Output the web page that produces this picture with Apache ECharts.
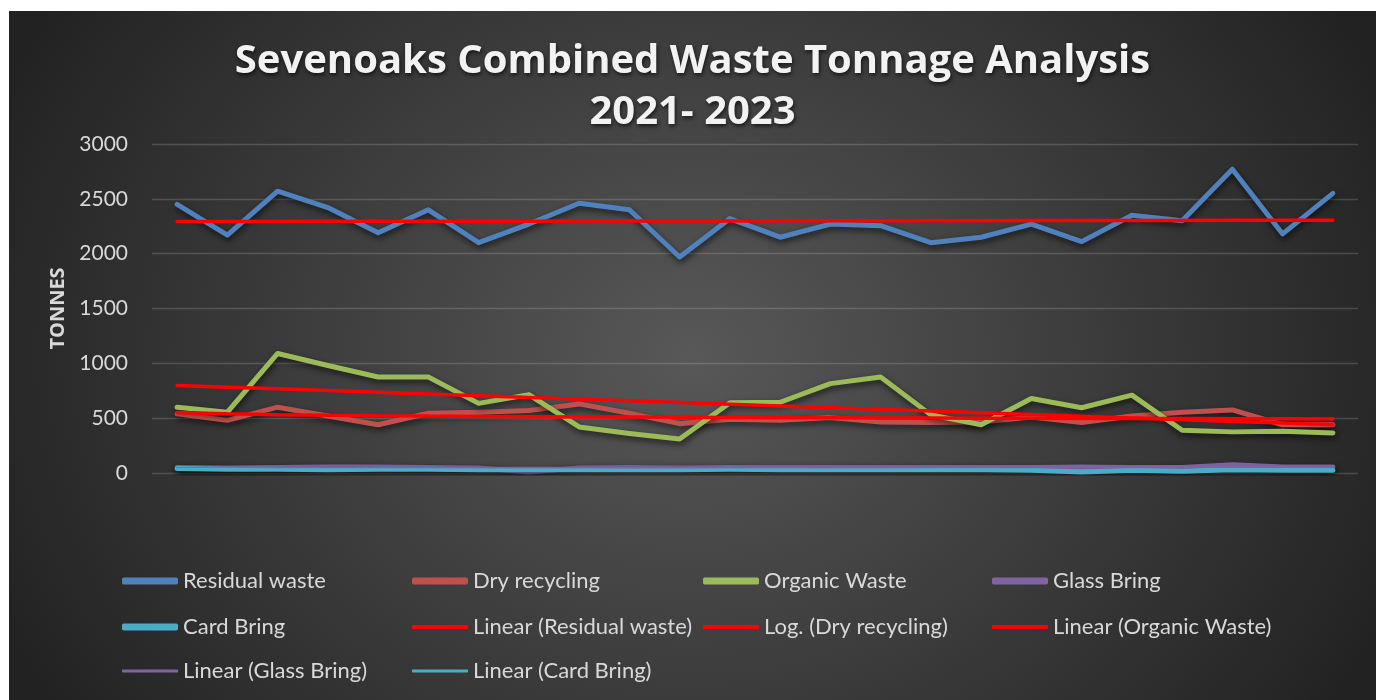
<!DOCTYPE html>
<html>
<head>
<meta charset="utf-8">
<script src="https://cdn.jsdelivr.net/npm/echarts@6/dist/echarts.min.js"></script>
<style>
html, body { margin: 0; padding: 0; background: #fff; }
#chart { position: absolute; left: 9px; top: 11px; width: 1367px; height: 689px; }
</style>
</head>
<body>
<div id="chart"></div>
<script>
// months Apr 2021 - Mar 2023 (labels not shown on the chart)
var months = ['Apr-21','May-21','Jun-21','Jul-21','Aug-21','Sep-21','Oct-21','Nov-21','Dec-21','Jan-22','Feb-22','Mar-22',
              'Apr-22','May-22','Jun-22','Jul-22','Aug-22','Sep-22','Oct-22','Nov-22','Dec-22','Jan-23','Feb-23','Mar-23'];
var residual = [2450,2170,2570,2420,2190,2400,2100,2270,2460,2400,1970,2320,2150,2270,2255,2100,2150,2270,2110,2350,2300,2770,2180,2550];
var dry      = [540,480,600,520,440,545,555,570,630,545,450,490,480,505,465,460,465,510,460,520,555,575,440,440];
var organic  = [600,555,1090,980,875,875,635,715,420,360,310,640,645,815,875,530,440,680,595,710,390,375,380,365];
var glass    = [50,45,50,55,55,50,45,10,45,50,45,50,50,50,50,50,50,50,55,50,50,75,55,55];
var card     = [40,35,35,30,35,35,30,30,30,30,30,35,30,30,30,30,30,25,10,25,15,30,25,25];
var yTicks   = [0, 500, 1000, 1500, 2000, 2500, 3000];

var names = ['Residual waste','Dry recycling','Organic Waste','Glass Bring','Card Bring'];
var colors = ['#4F81BD','#C0504D','#9BBB59','#8064A2','#4BACC6'];

// least squares trend lines (Excel style)
function fit(arr, useLog) {
  var n = arr.length, sx = 0, sy = 0, sxx = 0, sxy = 0;
  for (var i = 0; i < n; i++) {
    var x = useLog ? Math.log(i + 1) : i + 1;
    sx += x; sy += arr[i]; sxx += x * x; sxy += x * arr[i];
  }
  var b = (n * sxy - sx * sy) / (n * sxx - sx * sx);
  var a = (sy - b * sx) / n;
  return arr.map(function (v, i) { return a + b * (useLog ? Math.log(i + 1) : i + 1); });
}

var dataSets = [residual, dry, organic, glass, card];
var series = [];
for (var i = 0; i < 5; i++) {
  series.push({
    name: names[i], type: 'line', data: dataSets[i], symbol: 'none', z: 2,
    itemStyle: { color: colors[i] },
    lineStyle: { width: 5, color: colors[i], cap: 'round', join: 'round',
      shadowColor: 'rgba(0,0,0,0.65)', shadowBlur: 6, shadowOffsetY: 3, shadowOffsetX: 1 }
  });
}
var trends = [
  { name: 'Linear (Residual waste)', data: fit(residual, false), color: '#FF0000', width: 3.5 },
  { name: 'Log. (Dry recycling)',    data: fit(dry, true),       color: '#FF0000', width: 3.5 },
  { name: 'Linear (Organic Waste)',  data: fit(organic, false),  color: '#FF0000', width: 3.5 },
  { name: 'Linear (Glass Bring)',    data: fit(glass, false),    color: '#8064A2', width: 2 },
  { name: 'Linear (Card Bring)',     data: fit(card, false),     color: '#4BACC6', width: 2 }
];
trends.forEach(function (t) {
  series.push({
    name: t.name, type: 'line', data: t.data, symbol: 'none', z: 3,
    itemStyle: { color: t.color },
    lineStyle: { width: t.width, color: t.color, cap: 'round' }
  });
});

// legend layout: [name, col, row, iconHeight]
var legendItems = [
  ['Residual waste', 0, 0, 7], ['Dry recycling', 1, 0, 7], ['Organic Waste', 2, 0, 7], ['Glass Bring', 3, 0, 7],
  ['Card Bring', 0, 1, 7], ['Linear (Residual waste)', 1, 1, 4], ['Log. (Dry recycling)', 2, 1, 4], ['Linear (Organic Waste)', 3, 1, 4],
  ['Linear (Glass Bring)', 0, 2, 3], ['Linear (Card Bring)', 1, 2, 3]
];
var colX = [113, 403, 694, 983];
var rowY = [570, 616, 660];
var legends = legendItems.map(function (it) {
  return {
    data: [it[0]], orient: 'horizontal', selectedMode: false, padding: 0,
    left: colX[it[1]], top: rowY[it[2]] - 11,
    icon: 'roundRect', itemWidth: 56, itemHeight: it[3], itemGap: 0,
    itemStyle: { borderWidth: 0 },
    textStyle: { color: '#D9D9D9', fontSize: 22, fontFamily: 'Lato' }
  };
});

var myChart = echarts.init(document.getElementById('chart'), null, { renderer: 'canvas' });
var option = {
  animation: false,
  backgroundColor: '#262626',
  graphic: [{
    type: 'rect', z: -10, silent: true,
    shape: { x: 0, y: 0, width: 1367 / 1.2, height: 689 },
    scaleX: 1.2,
    style: {
      fill: { type: 'radial', x: 0.5, y: 0.5, r: 0.93,
        colorStops: [{ offset: 0, color: '#585858' }, { offset: 1, color: '#222222' }] }
    }
  }],
  title: {
    text: 'Sevenoaks Combined Waste Tonnage Analysis\n2021- 2023',
    left: 'center', top: 20,
    textStyle: {
      color: '#F2F2F2', fontSize: 40, fontWeight: 'bold', fontFamily: 'Open Sans', lineHeight: 51,
      textShadowColor: 'rgba(0,0,0,0.7)', textShadowBlur: 4, textShadowOffsetX: 1, textShadowOffsetY: 2
    }
  },
  legend: legends,
  grid: { left: 143, right: 18, top: 133, bottom: 227, containLabel: false },
  xAxis: {
    type: 'category', data: months, boundaryGap: true,
    axisLine: { show: false }, axisTick: { show: false }, axisLabel: { show: false }
  },
  yAxis: {
    type: 'value', min: yTicks[0], max: yTicks[yTicks.length - 1], interval: 500,
    name: 'TONNES', nameLocation: 'middle', nameGap: 75, nameRotate: 90,
    nameTextStyle: { color: '#D9D9D9', fontSize: 20, fontWeight: 'bold', fontFamily: 'Open Sans' },
    axisLine: { show: false }, axisTick: { show: false },
    axisLabel: { color: '#D9D9D9', fontSize: 21, fontFamily: 'Lato', margin: 24,
      formatter: function (v) { return String(v); } },
    splitLine: { lineStyle: { color: 'rgba(255,255,255,0.16)', width: 1.3 } }
  },
  series: series
};
myChart.setOption(option);
</script>
</body>
</html>
